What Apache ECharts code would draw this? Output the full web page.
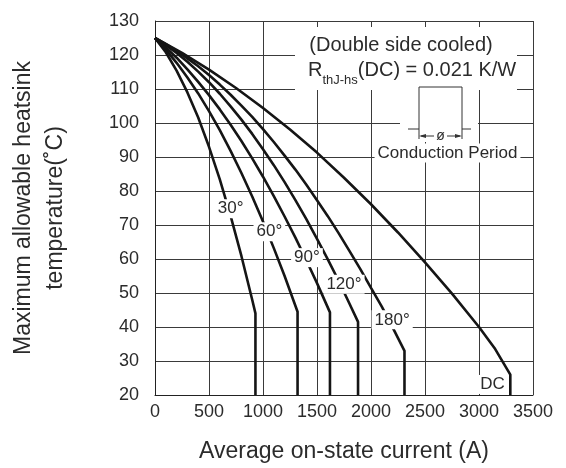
<!DOCTYPE html>
<html>
<head>
<meta charset="utf-8">
<script src="https://cdn.jsdelivr.net/npm/echarts@6/dist/echarts.min.js"></script>
<style>
html, body { margin: 0; padding: 0; background: #fff; }
#main { width: 566px; height: 468px; }
</style>
</head>
<body>
<div id="main"></div>
<script>
// current (A), heatsink temperature (C)
var curve30 = [[0, 125], [100, 120.8], [200, 115.4], [300, 109.0], [400, 101.6], [500, 93.0],
    [600, 83.4], [700, 72.7], [800, 60.9], [900, 48.0], [930, 44], [930, 20]];
var curve60 = [[0, 125], [100, 121.6], [200, 117.7], [300, 113.4], [400, 108.7], [500, 103.5],
    [600, 97.9], [700, 91.8], [800, 85.3], [900, 78.4], [1000, 71.0], [1100, 63.2],
    [1200, 55.0], [1320, 44.5], [1320, 20]];
var curve90 = [[0, 125], [100, 122.2], [200, 119.2], [300, 115.8], [400, 112.1], [500, 108.2],
    [600, 104.0], [700, 99.5], [800, 94.7], [900, 89.6], [1000, 84.2], [1100, 78.5],
    [1200, 72.5], [1300, 66.3], [1400, 59.7], [1500, 52.9], [1620, 44.3], [1620, 20]];
var curve120 = [[0, 125], [100, 122.9], [200, 120.6], [300, 118.0], [400, 115.1], [500, 112.0],
    [600, 108.6], [700, 104.9], [800, 101.0], [900, 96.8], [1000, 92.3], [1100, 87.6],
    [1200, 82.6], [1300, 77.3], [1400, 71.8], [1500, 65.9], [1600, 59.9], [1700, 53.6],
    [1800, 46.9], [1880, 41.5], [1880, 20]];
var curve180 = [[0, 125], [100, 123.2], [200, 121.2], [300, 119.0], [400, 116.7], [500, 114.1],
    [600, 111.3], [700, 108.3], [800, 105.1], [900, 101.8], [1000, 98.2], [1100, 94.4],
    [1200, 90.4], [1300, 86.3], [1400, 81.9], [1500, 77.3], [1600, 72.6], [1700, 67.6],
    [1800, 62.4], [1900, 57.1], [2000, 51.5], [2100, 46.0], [2200, 39.9], [2310, 33], [2310, 20]];
var curveDC = [[0, 125], [250, 120.6], [500, 115.7], [750, 110.3], [1000, 104.4], [1250, 98.1],
    [1500, 91.3], [1750, 83.9], [2000, 76.1], [2250, 67.8], [2500, 59.0], [2750, 49.8],
    [3000, 40], [3150, 33.5], [3290, 26], [3290, 20]];

var curveNames = ['30°', '60°', '90°', '120°', '180°', 'DC'];
var curveData = [curve30, curve60, curve90, curve120, curve180, curveDC];
// where each curve's label sits, in data units
var labelAt = [[700, 74.8], [1059, 68.0], [1407, 60.4], [1750, 52.6], [2196, 42.1], [3126, 23.1]];

var xMin = 0, xMax = 3500, xStep = 500;
var yMin = 20, yMax = 130, yStep = 10;

var font = '"Liberation Sans", Arial, sans-serif';
var textColor = '#2b2b2b';

function makeSeries() {
    var list = [];
    for (var i = 0; i < curveData.length; i++) {
        list.push({
            name: curveNames[i],
            type: 'line',
            data: curveData[i],
            symbol: 'none',
            silent: true,
            z: 3,
            lineStyle: { color: '#151515', width: 2.6 },
            markPoint: {
                symbol: 'rect',
                symbolSize: 1,
                itemStyle: { color: 'rgba(0,0,0,0)' },
                label: {
                    show: true,
                    position: 'inside',
                    formatter: curveNames[i],
                    color: textColor,
                    fontFamily: font,
                    fontSize: 17,
                    backgroundColor: '#fff',
                    padding: [1, 3]
                },
                data: [{ coord: labelAt[i] }]
            }
        });
    }
    return list;
}

function chart01() {
    var myChart = echarts.init(document.getElementById('main'));
    var option = {
        animation: false,
        backgroundColor: '#fff',
        grid: { left: 153, right: 33, top: 21, bottom: 71 },
        xAxis: {
            type: 'value',
            min: xMin, max: xMax, interval: xStep,
            name: 'Average on-state current (A)',
            nameLocation: 'middle',
            nameGap: 45,
            nameTextStyle: { fontFamily: font, fontSize: 23, color: textColor },
            axisLine: { show: true, lineStyle: { color: '#222', width: 1 } },
            axisTick: { show: false },
            axisLabel: {
                margin: 8, fontFamily: font, fontSize: 18, color: textColor,
                formatter: function (v) { return String(v); }
            },
            splitLine: { show: true, lineStyle: { color: '#3a3a3a', width: 1 } }
        },
        yAxis: {
            type: 'value',
            min: yMin, max: yMax, interval: yStep,
            name: 'Maximum allowable heatsink\ntemperature(˚C)',
            nameLocation: 'middle',
            nameGap: 83,
            nameTextStyle: { fontFamily: font, fontSize: 23, color: textColor, lineHeight: 32 },
            axisLine: { show: true, lineStyle: { color: '#222', width: 1 } },
            axisTick: { show: false },
            axisLabel: { margin: 16, fontFamily: font, fontSize: 18, color: textColor },
            splitLine: { show: true, lineStyle: { color: '#3a3a3a', width: 1 } }
        },
        series: makeSeries(),
        graphic: [
            { type: 'rect', z: 10, shape: { x: 295, y: 27, width: 222, height: 63 }, style: { fill: '#fff' } },
            { type: 'rect', z: 10, shape: { x: 400, y: 90, width: 78, height: 52 }, style: { fill: '#fff' } },
            {
                type: 'text', z: 11, x: 401, y: 45,
                style: { text: '(Double side cooled)', fill: textColor, font: '20px ' + font, align: 'center', verticalAlign: 'middle' }
            },
            {
                type: 'text', z: 11, x: 308, y: 70,
                style: {
                    text: '{r|R}{s|thJ-hs}{r|(DC) = 0.021 K/W}',
                    verticalAlign: 'middle',
                    rich: {
                        r: { fontSize: 20, fontFamily: font, fill: textColor, lineHeight: 24 },
                        s: { fontSize: 13, fontFamily: font, fill: textColor, lineHeight: 24, verticalAlign: 'bottom', padding: [0, 0, -5, 0] }
                    }
                }
            },
            {
                type: 'polyline', z: 11,
                shape: { points: [[408, 129], [419, 129], [419, 87], [462, 87], [462, 129], [471, 129]] },
                style: { stroke: '#333', lineWidth: 1, fill: null }
            },
            { type: 'line', z: 11, shape: { x1: 419, y1: 129, x2: 419, y2: 139 }, style: { stroke: '#333', lineWidth: 1 } },
            { type: 'line', z: 11, shape: { x1: 462, y1: 129, x2: 462, y2: 139 }, style: { stroke: '#333', lineWidth: 1 } },
            { type: 'line', z: 11, shape: { x1: 421, y1: 136, x2: 434, y2: 136 }, style: { stroke: '#333', lineWidth: 1 } },
            { type: 'line', z: 11, shape: { x1: 447, y1: 136, x2: 460, y2: 136 }, style: { stroke: '#333', lineWidth: 1 } },
            { type: 'polygon', z: 11, shape: { points: [[419, 136], [426, 134], [426, 138]] }, style: { fill: '#333' } },
            { type: 'polygon', z: 11, shape: { points: [[462, 136], [455, 134], [455, 138]] }, style: { fill: '#333' } },
            {
                type: 'text', z: 11, x: 440.5, y: 136,
                style: { text: 'ø', fill: textColor, font: '14px ' + font, align: 'center', verticalAlign: 'middle' }
            },
            {
                type: 'text', z: 11, x: 447.5, y: 153,
                style: {
                    text: 'Conduction Period', fill: textColor, font: '17px ' + font,
                    align: 'center', verticalAlign: 'middle', backgroundColor: '#fff', padding: [1, 3]
                }
            }
        ]
    };
    myChart.setOption(option);
}

chart01();
</script>
</body>
</html>
